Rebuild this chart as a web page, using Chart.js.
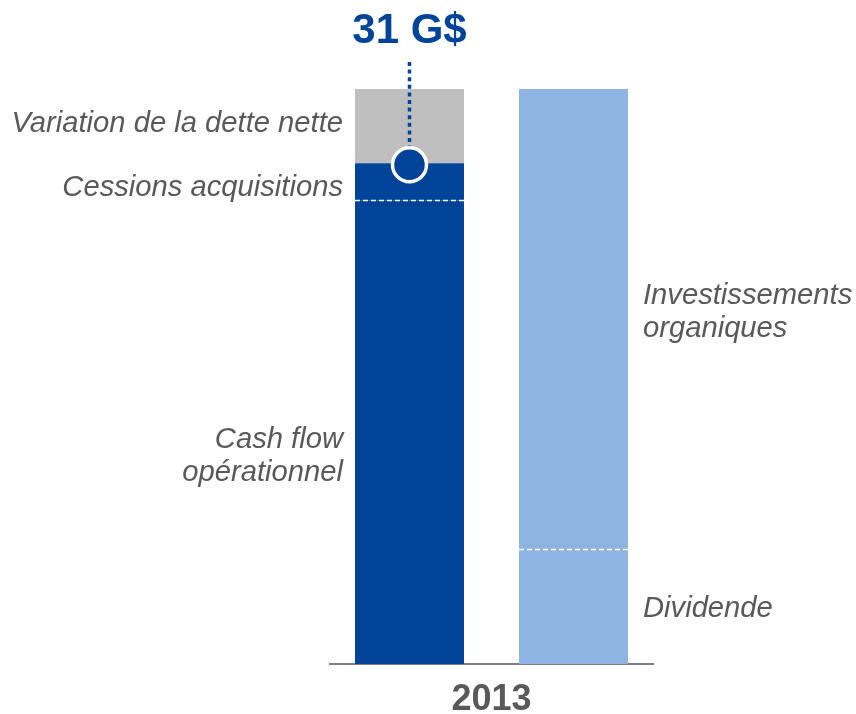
<!DOCTYPE html>
<html><head><meta charset="utf-8">
<script src="https://cdn.jsdelivr.net/npm/chart.js@4"></script>
<style>html,body{margin:0;padding:0;background:#fff}#wrap{width:856px;height:714px}</style>
</head><body><div id="wrap"><canvas id="c" width="856" height="714"></canvas></div>
<script>
// ---- data ----
const categories = ['2013'];
const sourceLabels = [['Cash flow', 'opérationnel'], ['Cessions acquisitions'], ['Variation de la dette nette']];
const sourceValues = [25, 2, 4];
const useLabels = [['Dividende'], ['Investissements', 'organiques']];
const useValues = [6.2, 24.8];
const unit = 'G$';
const yRange = [0, 31];

// ---- styles ----
const DARK = '#00449A', GREY = '#BFBFBF', LIGHT = '#8EB4E3', TEXT = '#595959';
const sourceColors = [DARK, DARK, GREY];
const useColors = [LIGHT, LIGHT];
const FONT = '"Liberation Sans", Arial, sans-serif';

const datasets = [];
sourceValues.forEach((v, i) => datasets.push({
  label: sourceLabels[i].join(' '), lines: sourceLabels[i], side: 'left',
  data: [v], backgroundColor: sourceColors[i], stack: 'sources', borderWidth: 0
}));
useValues.forEach((v, i) => datasets.push({
  label: useLabels[i].join(' '), lines: useLabels[i], side: 'right',
  data: [v], backgroundColor: useColors[i], stack: 'uses', borderWidth: 0
}));

// label vertical nudges (px) per dataset
const labelNudge = [24, 6, -2, 2, -7];

const overlay = {
  id: 'overlay',
  afterDatasetsDraw(chart) {
    const ctx = chart.ctx;
    ctx.save();
    // white dashed separators: top of first segment in each stack
    [0, sourceValues.length].forEach(i => {
      const el = chart.getDatasetMeta(i).data[0];
      ctx.strokeStyle = '#ffffff'; ctx.lineWidth = 1.5; ctx.setLineDash([5, 3]);
      ctx.beginPath();
      ctx.moveTo(el.x - el.width / 2, Math.round(el.y) + 0.5);
      ctx.lineTo(el.x + el.width / 2, Math.round(el.y) + 0.5);
      ctx.stroke();
    });
    ctx.setLineDash([]);
    // segment labels
    ctx.font = 'italic 29.2px ' + FONT;
    ctx.fillStyle = TEXT;
    ctx.textBaseline = 'middle';
    chart.data.datasets.forEach((ds, i) => {
      const el = chart.getDatasetMeta(i).data[0];
      const mid = (el.y + el.base) / 2 + labelNudge[i];
      const lh = 33;
      const y0 = mid - (ds.lines.length - 1) * lh / 2;
      let x;
      if (ds.side === 'left') { ctx.textAlign = 'right'; x = el.x - el.width / 2 - 12; }
      else { ctx.textAlign = 'left'; x = el.x + el.width / 2 + 15; }
      ds.lines.forEach((t, k) => ctx.fillText(t, x, y0 + k * lh));
    });
    // dotted line + circle marker on left stack at top of dark segments
    const elC = chart.getDatasetMeta(1).data[0];
    const cx = elC.x, cy = elC.y + 1.5;
    const top = chart.chartArea.top - 27;
    ctx.strokeStyle = DARK; ctx.lineWidth = 3.5; ctx.setLineDash([4, 3.6]);
    ctx.beginPath(); ctx.moveTo(cx, top); ctx.lineTo(cx, cy - 17); ctx.stroke();
    ctx.setLineDash([]);
    ctx.beginPath(); ctx.arc(cx, cy, 17, 0, Math.PI * 2);
    ctx.fillStyle = DARK; ctx.fill();
    ctx.strokeStyle = '#ffffff'; ctx.lineWidth = 3.5; ctx.stroke();
    // total title
    const total = sourceValues.reduce((a, b) => a + b, 0);
    ctx.font = 'bold 42px ' + FONT;
    ctx.fillStyle = DARK; ctx.textAlign = 'center'; ctx.textBaseline = 'alphabetic';
    ctx.fillText(total + ' ' + unit, cx, chart.chartArea.top - 46);
    ctx.restore();
  }
};

new Chart(document.getElementById('c'), {
  type: 'bar',
  data: { labels: categories, datasets },
  options: {
    responsive: false, animation: false, devicePixelRatio: 1,
    categoryPercentage: 1.0155, barPercentage: 0.6646,
    layout: { padding: { left: 330, right: 203, top: 89, bottom: 0 } },
    plugins: { legend: { display: false }, tooltip: { enabled: false }, title: { display: false } },
    scales: {
      x: {
        stacked: true, z: 1,
        grid: { display: false, drawTicks: false },
        border: { display: true, color: '#7F7F7F', width: 2 },
        ticks: { color: TEXT, font: { family: FONT, size: 36, weight: 'bold' }, padding: 14 },
        afterFit(s) { s.height = 50; }
      },
      y: { stacked: true, display: false, min: yRange[0], max: yRange[1] }
    }
  },
  plugins: [overlay]
});
</script></body></html>
